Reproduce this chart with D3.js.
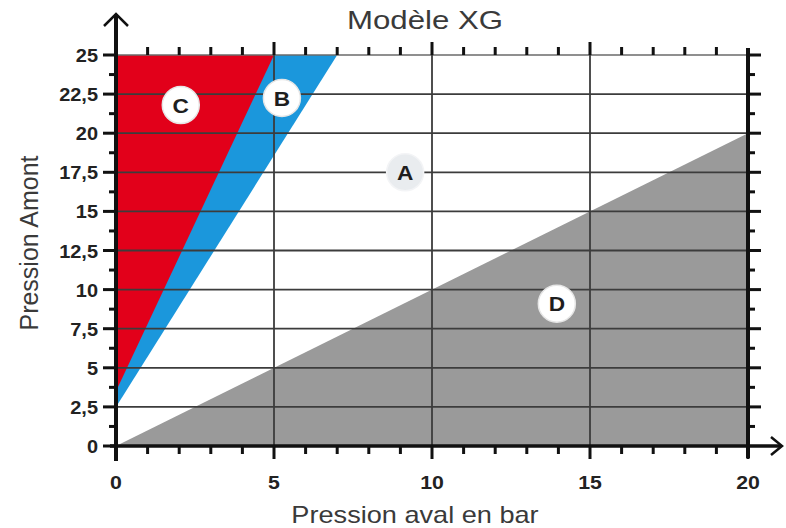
<!DOCTYPE html>
<html><head><meta charset="utf-8">
<script src="https://cdn.jsdelivr.net/npm/d3@7"></script>
<style>body{margin:0;background:#fff}svg{display:block}</style>
</head><body>
<script>
// ---- data ----
const title = "Modèle XG";
const xTitle = "Pression aval en bar";
const yTitle = "Pression Amont";
const xTickValues = [0, 5, 10, 15, 20];
const yTickValues = [0, 2.5, 5, 7.5, 10, 12.5, 15, 17.5, 20, 22.5, 25];
const xMinorTicks = d3.range(0, 21, 1);
const yMinorTicks = d3.range(0, 25.01, 1.25);
const regionD = [[0, 0], [20, 20], [20, 0]];
const regionB = [[0, 2.5], [7, 25], [0, 25]];
const regionC = [[0, 3.5], [5, 25], [0, 25]];
const regionLabels = ["A", "B", "C", "D"];
const labelX = [9.15, 5.25, 2.05, 13.95];
const labelY = [17.5, 22.25, 21.8, 9.1];

const W = 786, H = 528;
const FONT = "Liberation Sans, Arial, sans-serif";
const svg = d3.select("body").append("svg").attr("width", W).attr("height", H);
const x = d3.scaleLinear().domain([0, 20]).range([116, 748]);
const y = d3.scaleLinear().domain([0, 25]).range([446, 55]);
const line = d3.line().x(d => x(d[0])).y(d => y(d[1]));
const isMajorY = d => Math.abs(d / 2.5 - Math.round(d / 2.5)) < 1e-6;

// regions
svg.append("path").attr("d", line(regionD) + "Z").attr("fill", "#9a9a9a");
svg.append("path").attr("d", line(regionB) + "Z").attr("fill", "#1b97dc");
svg.append("path").attr("d", line(regionC) + "Z").attr("fill", "#e2001a");

// grid
const g = svg.append("g");
g.selectAll(".hg").data(yTickValues.filter(v => v > 0 && v < 25)).join("line")
  .attr("x1", x(0)).attr("x2", x(20)).attr("y1", d => y(d)).attr("y2", d => y(d))
  .attr("stroke", "#3c3c3c").attr("stroke-width", 1.8);
g.append("line").attr("x1", x(0)).attr("x2", x(20)).attr("y1", y(25)).attr("y2", y(25))
  .attr("stroke", "#6a6a6a").attr("stroke-width", 1.5);
g.selectAll(".vg").data(xTickValues.filter(v => v > 0 && v < 20)).join("line")
  .attr("y1", y(0)).attr("y2", y(25)).attr("x1", d => x(d)).attr("x2", d => x(d))
  .attr("stroke", "#3c3c3c").attr("stroke-width", 1.8);

// top ticks
g.selectAll(".tt").data(xMinorTicks.filter(v => v > 0 && v < 20)).join("line")
  .attr("x1", d => x(d)).attr("x2", d => x(d))
  .attr("y1", y(25)).attr("y2", d => y(25) - (d % 5 === 0 ? 13 : 8))
  .attr("stroke", "#111").attr("stroke-width", 3);

// right axis
g.append("line").attr("x1", x(20)).attr("x2", x(20)).attr("y1", y(25) - 7).attr("y2", y(0) + 12)
  .attr("stroke", "#111").attr("stroke-width", 4);
g.selectAll(".rt").data(yMinorTicks.filter(v => v > 0)).join("line")
  .attr("x1", x(20)).attr("x2", d => x(20) + (isMajorY(d) ? 13 : 7))
  .attr("y1", d => y(d)).attr("y2", d => y(d))
  .attr("stroke", "#111").attr("stroke-width", 3);

// bottom axis
const xb = svg.append("g");
xb.append("line").attr("x1", x(0) - 6).attr("x2", 781).attr("y1", y(0)).attr("y2", y(0))
  .attr("stroke", "#111").attr("stroke-width", 3.5);
xb.append("path").attr("d", `M${771},${y(0) - 9}L${782},${y(0)}L${771},${y(0) + 9}`)
  .attr("fill", "none").attr("stroke", "#111").attr("stroke-width", 2.5);
xb.selectAll(".bt").data(xMinorTicks).join("line")
  .attr("x1", d => x(d)).attr("x2", d => x(d))
  .attr("y1", y(0)).attr("y2", d => y(0) + (d % 5 === 0 ? 13 : 8))
  .attr("stroke", "#111").attr("stroke-width", 3);
xb.selectAll(".bl").data(xTickValues).join("text")
  .attr("transform", d => `translate(${x(d)},489) scale(1.12,1)`).attr("text-anchor", "middle")
  .attr("font-family", FONT).attr("font-weight", "bold")
  .attr("font-size", 19).attr("fill", "#222").text(d => d);

// left axis
const yl = svg.append("g");
yl.append("line").attr("x1", x(0)).attr("x2", x(0)).attr("y1", 14).attr("y2", y(0) + 15)
  .attr("stroke", "#111").attr("stroke-width", 4);
yl.append("path").attr("d", `M${x(0) - 12},${26}L${x(0)},${14}L${x(0) + 12},${26}`)
  .attr("fill", "none").attr("stroke", "#111").attr("stroke-width", 2.5);
yl.selectAll(".lt").data(yMinorTicks).join("line")
  .attr("x1", x(0)).attr("x2", d => x(0) - (isMajorY(d) ? 13 : 7))
  .attr("y1", d => y(d)).attr("y2", d => y(d))
  .attr("stroke", "#111").attr("stroke-width", 3);
yl.selectAll(".ll").data(yTickValues).join("text")
  .attr("transform", d => `translate(98,${y(d) + 7}) scale(1.05,1)`).attr("text-anchor", "end")
  .attr("font-family", FONT).attr("font-weight", "bold")
  .attr("font-size", 19).attr("fill", "#222").text(d => String(d).replace(".", ","));

// region labels
const lab = svg.append("g").selectAll("g").data(regionLabels).join("g")
  .attr("transform", (d, i) => `translate(${x(labelX[i])},${y(labelY[i])})`);
lab.append("circle").attr("r", 18.5)
  .attr("fill", d => d === "A" ? "#e9ecef" : "#fff")
  .attr("stroke", d => d === "A" ? "#f3f4f6" : "#e6e6e6").attr("stroke-width", 1.5);
lab.append("text").attr("text-anchor", "middle").attr("dy", "0.36em")
  .attr("transform", "scale(1.08,1)")
  .attr("font-family", FONT).attr("font-weight", "bold")
  .attr("font-size", 21).attr("fill", "#1e1e1e").text(d => d);

// titles
svg.append("text").attr("transform", "translate(425,29) scale(1.2,1)").attr("text-anchor", "middle")
  .attr("font-family", FONT).attr("font-size", 26)
  .attr("fill", "#3a3a3a").text(title);
svg.append("text").attr("transform", "translate(415,523) scale(1.18,1)").attr("text-anchor", "middle")
  .attr("font-family", FONT).attr("font-size", 23)
  .attr("fill", "#3a3a3a").text(xTitle);
svg.append("text").attr("transform", "translate(38,243) rotate(-90)").attr("text-anchor", "middle")
  .attr("font-family", FONT).attr("font-size", 25)
  .attr("fill", "#3a3a3a").text(yTitle);
</script>
</body></html>
